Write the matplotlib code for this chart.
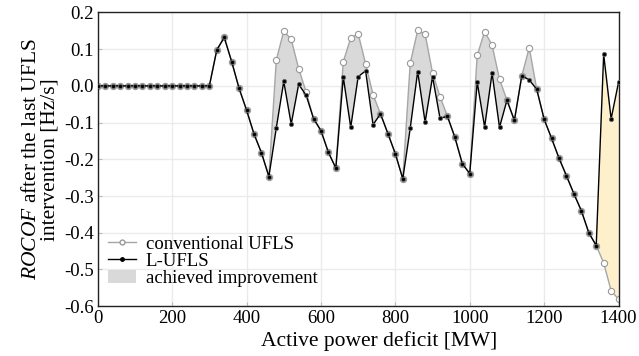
import numpy as np
import matplotlib.pyplot as plt
from matplotlib.lines import Line2D
from matplotlib.patches import Patch

plt.rcParams['font.family'] = 'Liberation Serif'
plt.rcParams['mathtext.fontset'] = 'custom'
plt.rcParams['mathtext.it'] = 'Liberation Serif:italic'
plt.rcParams['mathtext.rm'] = 'Liberation Serif'

# active power deficit steps [MW]
deficit = np.arange(0, 1401, 20)

# ROCOF after the last UFLS intervention, L-UFLS
rocof_lufls = [
    0, 0, 0, 0, 0, 0, 0, 0, 0, 0, 0, 0, 0, 0, 0, 0,
    0.098, 0.132, 0.066, -0.007, -0.066, -0.131, -0.182, -0.247,
    -0.114, 0.012, -0.104, 0.004, -0.025, -0.089, -0.122, -0.181, -0.224,
    0.024, -0.113, 0.025, 0.041, -0.106, -0.076, -0.130, -0.185, -0.253,
    -0.115, 0.039, -0.099, 0.025, -0.088, -0.083, -0.140, -0.212, -0.239,
    0.010, -0.112, 0.035, -0.113, -0.039, -0.094, 0.028, 0.016, -0.009,
    -0.091, -0.143, -0.197, -0.245, -0.294, -0.340, -0.400, -0.435,
    0.086, -0.090, 0.010,
]

# ROCOF after the last UFLS intervention, conventional UFLS
rocof_conv = [
    0, 0, 0, 0, 0, 0, 0, 0, 0, 0, 0, 0, 0, 0, 0, 0,
    0.098, 0.132, 0.066, -0.007, -0.066, -0.131, -0.182, -0.247,
    0.071, 0.149, 0.127, 0.047, -0.016, -0.089, -0.122, -0.181, -0.224,
    0.066, 0.130, 0.142, 0.060, -0.024, -0.076, -0.130, -0.185, -0.253,
    0.062, 0.151, 0.141, 0.035, -0.029, -0.083, -0.140, -0.212, -0.239,
    0.083, 0.148, 0.111, 0.018, -0.039, -0.094, 0.028, 0.104, -0.009,
    -0.091, -0.143, -0.197, -0.245, -0.294, -0.340, -0.400, -0.435,
    -0.482, -0.558, -0.581,
]

x_ticks = [0, 200, 400, 600, 800, 1000, 1200, 1400]
y_ticks = [-0.6, -0.5, -0.4, -0.3, -0.2, -0.1, 0.0, 0.1, 0.2]

conv = np.array(rocof_conv)
lufls = np.array(rocof_lufls)

fig = plt.figure(figsize=(6.39, 3.56), dpi=100)
ax = fig.add_axes([0.153, 0.140, 0.815, 0.825])

# shaded areas between the two curves
ax.fill_between(deficit, lufls, conv, where=deficit <= 1340,
                facecolor='#d9d9d9', edgecolor='none', zorder=1)
ax.fill_between(deficit, lufls, conv, where=deficit >= 1340,
                facecolor='#fff0cc', edgecolor='none', zorder=1)

ax.plot(deficit, conv, color='#a6a6a6', lw=1.0, marker='o', ms=4.5,
        mfc='white', mec='#999999', mew=0.8, zorder=2)
ax.plot(deficit, lufls, color='black', lw=1.0, marker='o', ms=3,
        mfc='black', mec='#666666', mew=0.6, zorder=3)

ax.set_xlim(0, 1400)
ax.set_ylim(-0.6, 0.2)
ax.set_xticks(x_ticks)
ax.set_yticks(y_ticks)
ax.set_yticklabels([f'{v:.1f}' for v in y_ticks])
ax.tick_params(labelsize=13.5, direction='in', length=3, color='#bbbbbb', pad=3)
ax.grid(True, color='#ebebeb', lw=1.0)
ax.set_axisbelow(True)
for s in ax.spines.values():
    s.set_color('#222222')
    s.set_linewidth(1.0)

ax.set_xlabel('Active power deficit [MW]', fontsize=15.5)
ax.xaxis.set_label_coords(0.54, -0.085)
ax.set_ylabel('$ROCOF$ after the last UFLS\nintervention [Hz/s]', fontsize=15.5,
              labelpad=3, linespacing=1.0)

handles = [
    Line2D([], [], color='#a6a6a6', lw=1.0, marker='o', ms=3.5,
           mfc='white', mec='#999999'),
    Line2D([], [], color='black', lw=1.0, marker='o', ms=2.5, mfc='black'),
    Patch(facecolor='#d9d9d9', edgecolor='none'),
]
ax.legend(handles, ['conventional UFLS', 'L-UFLS', 'achieved improvement'],
          loc='lower left', bbox_to_anchor=(-0.005, 0.02), frameon=False,
          fontsize=13.5, handlelength=1.5, handletextpad=0.5,
          labelspacing=0.0, borderaxespad=0.3)

fig.savefig('out.png', dpi=100)
